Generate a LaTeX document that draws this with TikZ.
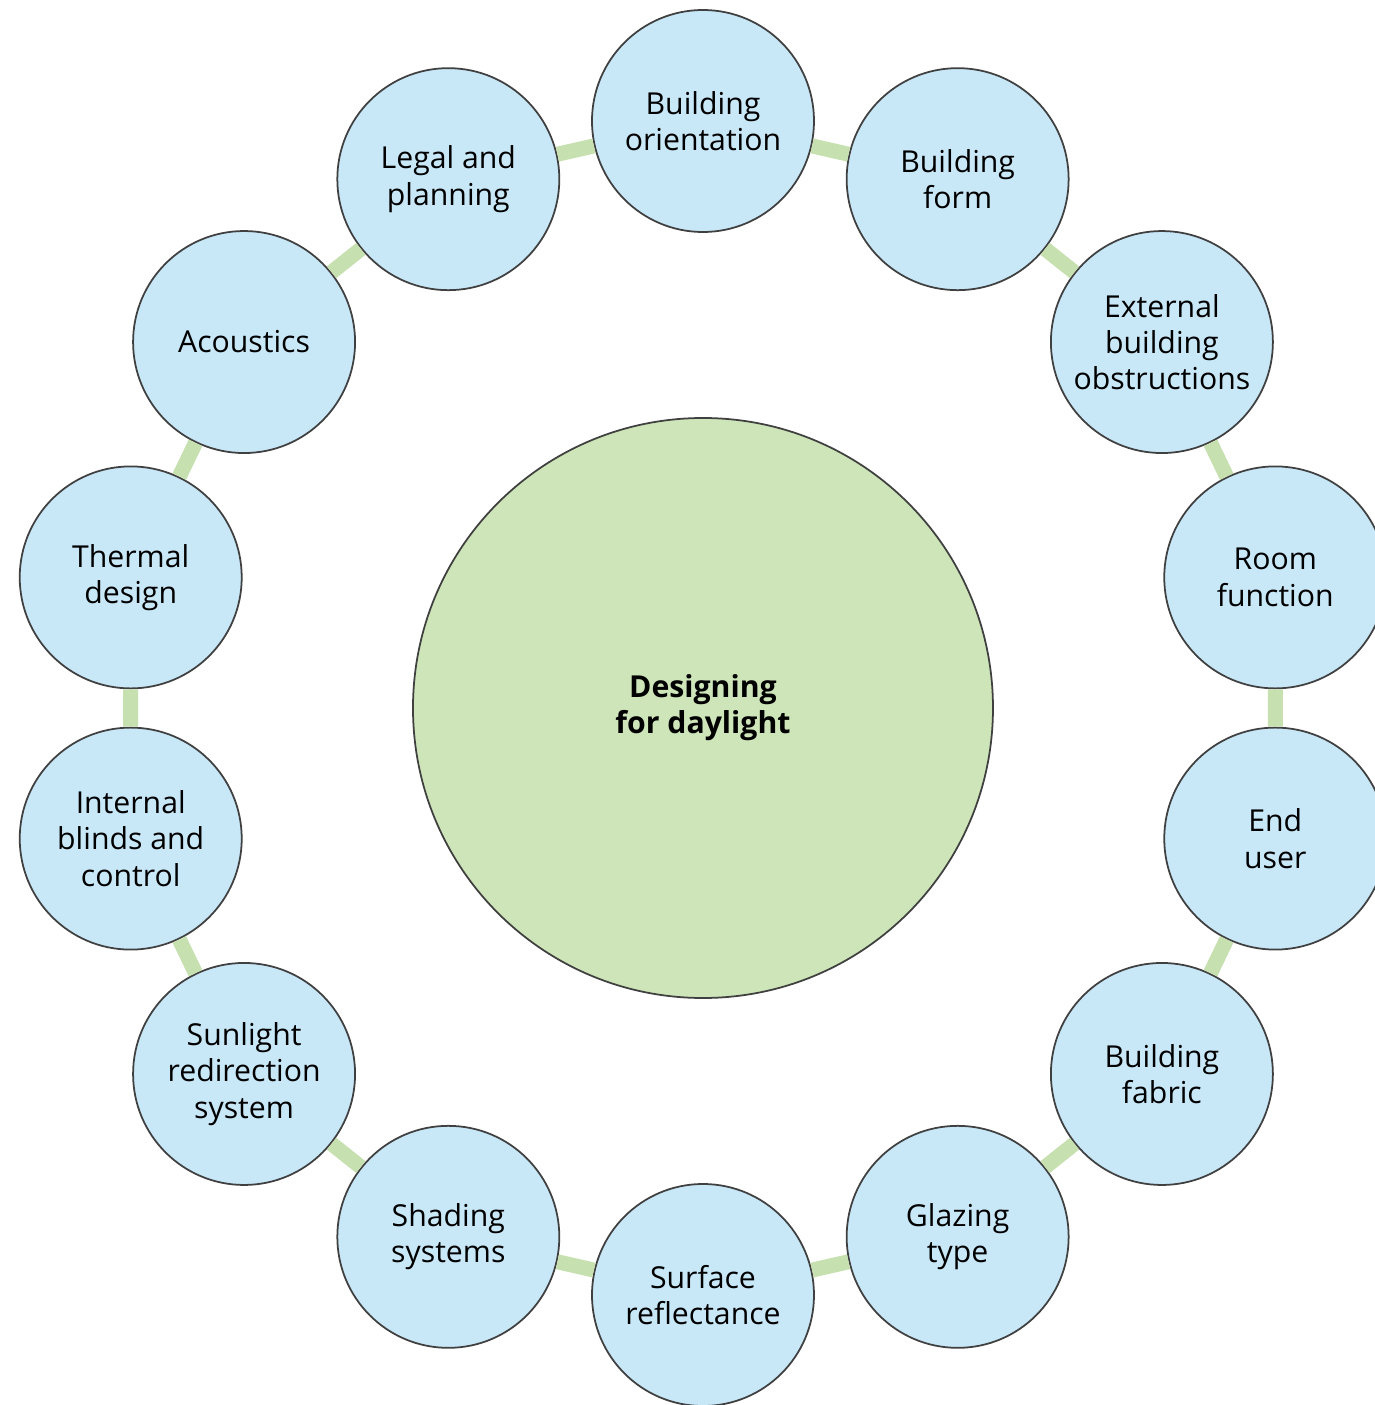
\documentclass[tikz,border=0pt]{standalone}
\usepackage{fontspec}
\setmainfont{Open Sans}
\definecolor{topicblue}{HTML}{C8E8F8}
\definecolor{hubgreen}{HTML}{CDE5B8}
\definecolor{linkgreen}{HTML}{C6E0B0}
\begin{document}
\begin{tikzpicture}[
	topic/.style={circle,draw=black!75,line width=0.5pt,fill=topicblue,minimum size=2.22cm,inner sep=0pt,align=center,font=\fontsize{8.6}{10.3}\selectfont},
	hub/.style={circle,draw=black!75,line width=0.5pt,fill=hubgreen,minimum size=5.8cm,inner sep=0pt,align=center,font=\fontsize{8.6}{10.3}\selectfont\bfseries},
	link/.style={draw=linkgreen,line width=0.15cm}]
		\useasboundingbox (-7.03,-6.97) rectangle (6.72,7.08);
		\node[hub] (hub) at (0,0) {Designing\\for daylight};
		\foreach \lbl [count=\i from 0] in {{Building\\orientation},{Building\\form},{External\\building\\obstructions},{Room\\function},{End\\user},{Building\\fabric},{Glazing\\type},{Surface\\reflectance},{Shading\\systems},{Sunlight\\redirection\\system},{Internal\\blinds and\\control},{Thermal\\design},{Acoustics},{Legal and\\planning}}
			{\node[topic] (t\i) at ({90-\i*360/14}:5.87) {\lbl};}
		\foreach \i [evaluate=\i as \j using {int(mod(\i+1,14))}] in {0,...,13}
			{\draw[link] (t\i) -- (t\j);}
\end{tikzpicture}
\end{document}
